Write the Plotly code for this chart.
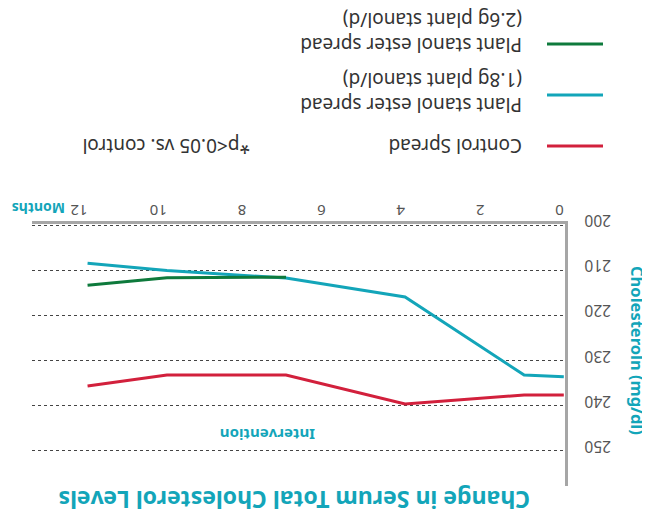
import plotly.graph_objects as go

# ---- data ----
months_control = [0, 1, 4, 7, 10, 12]
control = [237.6, 237.6, 239.6, 233.2, 233.2, 235.6]

months_18 = [0, 1, 4, 7, 10, 12]
stanol_18 = [233.6, 233.2, 215.9, 211.7, 210.0, 208.4]

months_26 = [7, 10, 12]
stanol_26 = [211.5, 211.6, 213.3]

x_ticks = [0, 2, 4, 6, 8, 10, 12]
y_ticks = [200, 210, 220, 230, 240, 250]

series_names = ["Control Spread",
                "Plant stanol ester spread<br>(1.8g plant stanol/d)",
                "Plant stanol ester spread<br>(2.6g plant stanol/d)"]

RED = "#d2203c"
TEAL = "#13a5b9"
GREEN = "#0e7a3c"
FONT = "Noto Sans"

# page has an 8px body margin; figure occupies 8..650 x 8..526
OFF = 8
W, H = 650 - OFF, 526 - OFF
PL, PR, PT, PB = 32, 565, 224, 486   # plot area in screen pixels
L, R, T, B = PL - OFF, 650 - PR, PT - OFF, 526 - PB
PW, PH = PR - PL, PB - PT


def px(x):
    return (x - PL) / PW


def py(y):
    return (PB - y) / PH


fig = go.Figure()
for xs, ys, col, nm in [(months_control, control, RED, series_names[0]),
                        (months_18, stanol_18, TEAL, series_names[1]),
                        (months_26, stanol_26, GREEN, series_names[2])]:
    fig.add_trace(go.Scatter(x=xs, y=ys, mode="lines", name=nm,
                             line=dict(color=col, width=3), showlegend=False))

fig.update_layout(
    width=W, height=H,
    margin=dict(l=L, r=R, t=T, b=B, autoexpand=False),
    paper_bgcolor="white", plot_bgcolor="white",
    font=dict(family=FONT, color="#444"),
    xaxis=dict(range=[13.4, -0.03], side="top", tickvals=x_ticks,
               tickangle=180, showgrid=False, zeroline=False,
               showline=True, linecolor="#a6a6a6", linewidth=3,
               ticks="", ticklabelstandoff=-5,
               tickfont=dict(size=15, color="#555")),
    yaxis=dict(range=[257.8, 199.7], side="right", tickvals=y_ticks,
               tickangle=180, showgrid=True, gridcolor="#444",
               griddash="dot", gridwidth=1.2, zeroline=False,
               showline=True, linecolor="#a6a6a6", linewidth=3,
               ticks="", ticklabelstandoff=40,
               tickfont=dict(size=15.5, color="#555")),
)


def note(text, x, y, size, color, angle=180, xanchor="center", align="center"):
    return dict(text=text, x=px(x), y=py(y), xref="paper", yref="paper",
                xanchor=xanchor, yanchor="middle", align=align,
                showarrow=False, textangle=angle, borderpad=0,
                font=dict(size=size, color=color, family=FONT))


ann = [
    note("<b>Change in Serum Total Cholesterol Levels</b>", 294, 500, 23, TEAL),
    note("<b>Cholesteroln (mg/dl)</b>", 638, 350, 16.5, TEAL, angle=90),
    note("<b>Months</b>", 39, 208, 14, TEAL),
    note("<b>Intervention</b>", 268, 435, 15, TEAL),
    note("*p<0.05 vs. control", 166, 146, 19, "#333"),
]

leg_y = [146, 95, 44]
leg_txt_y = [146, 93, 33]
cols = [RED, TEAL, GREEN]
shapes = []
for ly, ty, c, nm in zip(leg_y, leg_txt_y, cols, series_names):
    shapes.append(dict(type="line", xref="paper", yref="paper",
                       x0=px(547), x1=px(603), y0=py(ly), y1=py(ly),
                       line=dict(color=c, width=3)))
    ann.append(note(nm, 523, ty, 19, "#333", xanchor="right", align="left"))

fig.update_layout(annotations=ann, shapes=shapes)
fig.write_html("out.html")
